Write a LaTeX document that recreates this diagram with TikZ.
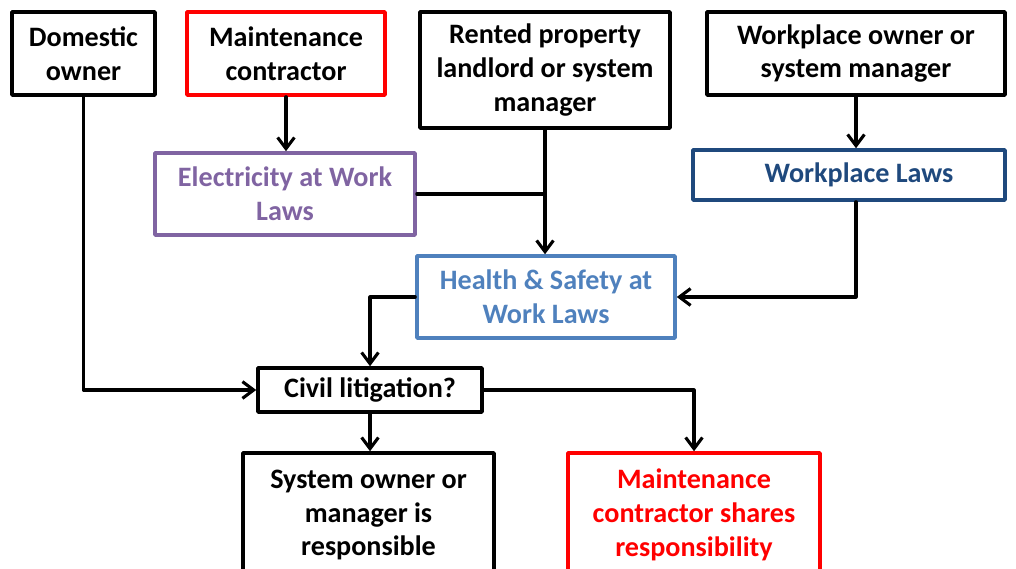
\documentclass[tikz,border=0pt]{standalone}
\usepackage{fontspec}
\setmainfont{Carlito}
\usetikzlibrary{arrows.meta}
\definecolor{redbox}{RGB}{255,0,0}
\definecolor{purplebox}{RGB}{128,100,162}
\definecolor{bluebox}{RGB}{79,129,189}
\definecolor{navybox}{RGB}{31,73,125}
\tikzset{
  box/.style={draw, line width=2.5pt, align=center, inner sep=0pt,
    font=\bfseries\fontsize{20}{24}\selectfont},
  link/.style={line width=2.2pt, black}
}

\begin{document}
\begin{tikzpicture}[line cap=round,line join=round,>={Straight Barb[length=2.8mm,width=4.2mm]},x=0.025cm,y=-0.025cm]
    \useasboundingbox (0,0) rectangle (1016,568);
    \clip (0,0) rectangle (1016,568);
    % Top row
    \node[box, minimum width=3.575cm, minimum height=2.075cm] (dom) at (83.5,53.5) {Domestic\\owner};
    \node[box, draw=redbox, minimum width=4.95cm, minimum height=2.075cm] (mc) at (286,53.5) {Maintenance\\contractor};
    \node[box, minimum width=6.25cm, minimum height=2.9cm] (rented) at (545,70) {Rented property\\landlord or system\\manager};
    \node[box, minimum width=7.45cm, minimum height=2.075cm] (wpo) at (856,53.5) {Workplace owner or\\system manager};

    % Laws
    \node[box, draw=purplebox, text=purplebox, minimum width=6.5cm, minimum height=2.05cm] (ew) at (285,194) {Electricity at Work\\Laws};
    \node[box, draw=navybox, text=navybox, minimum width=7.8cm, minimum height=1.25cm] (wl) at (849,175) {\hspace*{0.5cm}Workplace Laws};
    \node[box, draw=bluebox, text=bluebox, minimum width=6.45cm, minimum height=2.05cm] (hs) at (546,297) {Health \& Safety at\\Work Laws};

    % Outcome
    \node[box, minimum width=5.6cm, minimum height=1.1cm] (civil) at (370,390) {Civil litigation?};
    \node[box, minimum width=6.275cm, minimum height=3.1cm] (sys) at (368.5,515) {System owner or\\manager is\\responsible};
    \node[box, draw=redbox, text=redbox, minimum width=6.3cm, minimum height=3.1cm] (mcs) at (694,515) {Maintenance\\contractor shares\\responsibility};

    % Edges
    \draw[link,->] (mc.south) -- (mc.south |- ew.north);
    \draw[link,->] (rented.south) -- (rented.south |- hs.north);
    \draw[link] (ew.east) -- (ew.east -| rented.south);
    \draw[link,->] (wpo.south) -- (wpo.south |- wl.north);
    \draw[link,->] (wpo.south |- wl.south) |- (hs.east);
    \draw[link,->] (hs.west) -| (civil.north);
    \draw[link,->] (dom.south) |- (civil.west);
    \draw[link,->] (civil.east) -| (mcs.north);
    \draw[link,->] (civil.south) -- (civil.south |- sys.north);
\end{tikzpicture}
\end{document}
